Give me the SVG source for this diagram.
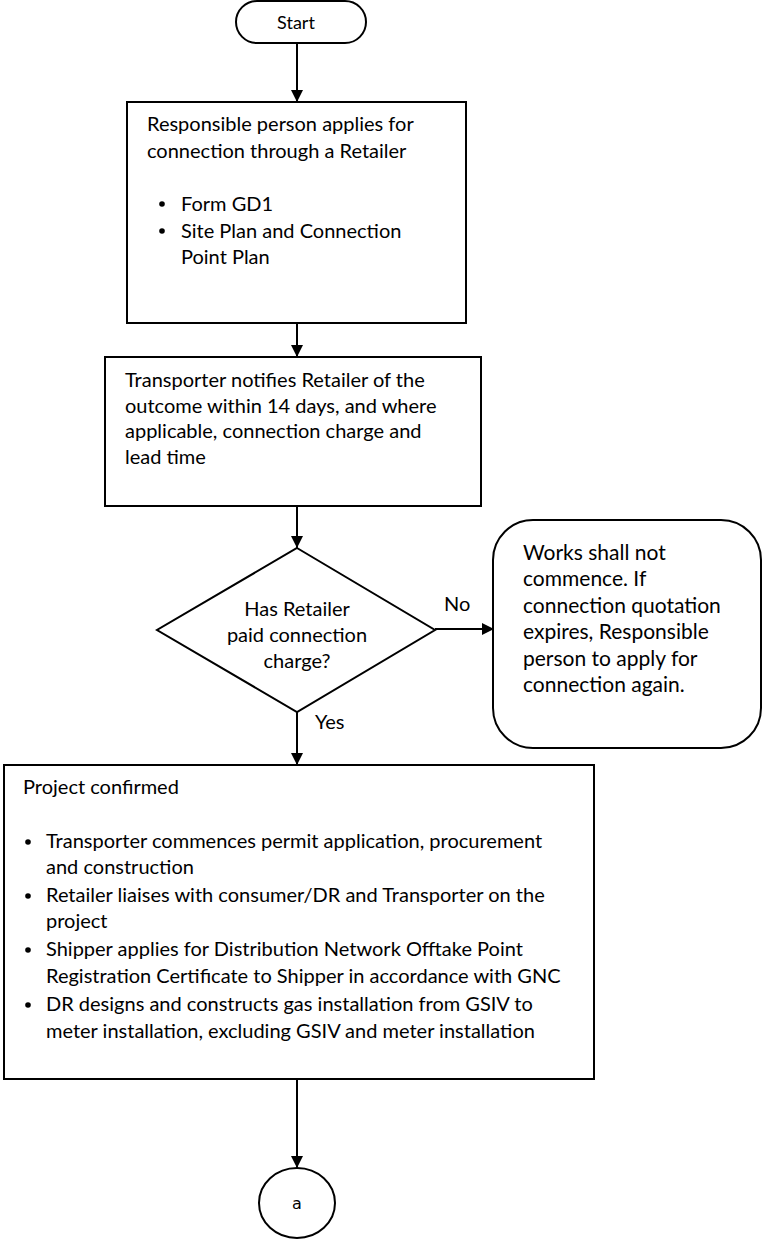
<svg xmlns="http://www.w3.org/2000/svg" width="762" height="1243" viewBox="0 0 762 1243">
<style>
.shape{fill:#fff;stroke:#000;stroke-width:2}
.t{font-family:Lato,"Liberation Sans",sans-serif;font-size:20px;fill:#000}
.s{font-size:18px}
.w{font-size:21px}
.c{text-anchor:middle}
.edge{stroke:#000;stroke-width:2;fill:none}
</style>
<defs>
<marker id="ah" markerWidth="12" markerHeight="12" refX="12" refY="6" orient="auto" markerUnits="userSpaceOnUse">
<path d="M0,0 L12,6 L0,12 Z" fill="#000"/>
</marker>
</defs>
<rect width="762" height="1243" fill="#fff"/>
<g id="edges">
<line class="edge" x1="297" y1="43" x2="297" y2="102" marker-end="url(#ah)"/>
<line class="edge" x1="297" y1="323" x2="297" y2="357" marker-end="url(#ah)"/>
<line class="edge" x1="297" y1="506" x2="297" y2="548" marker-end="url(#ah)"/>
<line class="edge" x1="297" y1="712" x2="297" y2="765" marker-end="url(#ah)"/>
<line class="edge" x1="435" y1="629" x2="494" y2="629" marker-end="url(#ah)"/>
<line class="edge" x1="297" y1="1079" x2="297" y2="1168" marker-end="url(#ah)"/>
<text class="t" x="444" y="611">No</text>
<text class="t" x="315" y="729">Yes</text>
</g>
<g id="start">
<rect class="shape" x="236" y="1" width="130" height="42" rx="21"/>
<text class="t s c" x="296" y="29">Start</text>
</g>
<g id="apply">
<rect class="shape" x="127" y="102" width="339" height="221"/>
<text class="t" x="147" y="131">Responsible person applies for</text>
<text class="t" x="147" y="158">connection through a Retailer</text>
<circle cx="162" cy="204" r="2.8"/>
<text class="t" x="181" y="211">Form GD1</text>
<circle cx="162" cy="231" r="2.8"/>
<text class="t" x="181" y="238">Site Plan and Connection</text>
<text class="t" x="181" y="264">Point Plan</text>
</g>
<g id="notify">
<rect class="shape" x="105" y="357" width="376" height="149"/>
<text class="t" x="125" y="387">Transporter notifies Retailer of the</text>
<text class="t" x="125" y="413">outcome within 14 days, and where</text>
<text class="t" x="125" y="438">applicable, connection charge and</text>
<text class="t" x="125" y="464">lead time</text>
</g>
<g id="decision">
<polygon class="shape" points="297,548 435,630 297,712 157,630"/>
<text class="t c" x="297" y="616">Has Retailer</text>
<text class="t c" x="297" y="642">paid connection</text>
<text class="t c" x="297" y="668">charge?</text>
</g>
<g id="nowork">
<rect class="shape" x="493" y="520" width="268" height="228" rx="40"/>
<text class="t w" x="523" y="560">Works shall not</text>
<text class="t w" x="523" y="586">commence. If</text>
<text class="t w" x="523" y="613">connection quotation</text>
<text class="t w" x="523" y="639">expires, Responsible</text>
<text class="t w" x="523" y="666">person to apply for</text>
<text class="t w" x="523" y="692">connection again.</text>
</g>
<g id="confirmed">
<rect class="shape" x="4" y="765" width="590" height="314"/>
<text class="t" x="23" y="794">Project confirmed</text>
<circle cx="28" cy="842" r="2.8"/>
<text class="t" x="46" y="848">Transporter commences permit application, procurement</text>
<text class="t" x="46" y="874">and construction</text>
<circle cx="28" cy="896" r="2.8"/>
<text class="t" x="46" y="902">Retailer liaises with consumer/DR and Transporter on the</text>
<text class="t" x="46" y="928">project</text>
<circle cx="28" cy="950" r="2.8"/>
<text class="t" x="46" y="956">Shipper applies for Distribution Network Offtake Point</text>
<text class="t" x="46" y="983">Registration Certificate to Shipper in accordance with GNC</text>
<circle cx="28" cy="1005" r="2.8"/>
<text class="t" x="46" y="1011">DR designs and constructs gas installation from GSIV to</text>
<text class="t" x="46" y="1038">meter installation, excluding GSIV and meter installation</text>
</g>
<g id="connector-a">
<ellipse class="shape" cx="297" cy="1203" rx="38" ry="35"/>
<text class="c" x="297" y="1209" style="font-family:'DejaVu Sans',sans-serif;font-size:16px">a</text>
</g>
</svg>
